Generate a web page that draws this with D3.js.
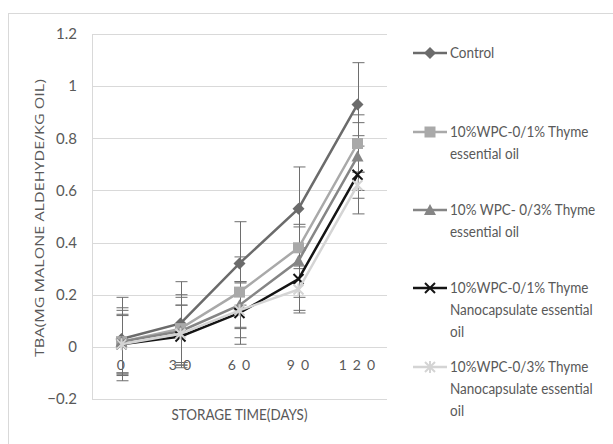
<!DOCTYPE html>
<html><head><meta charset="utf-8">
<script src="https://cdn.jsdelivr.net/npm/d3@7"></script>
<style>body{margin:0;background:#fff}svg{display:block}</style>
</head><body><svg id="c" width="613" height="444"></svg>
<script>
const days = ["0","30","60","90","120"];
const dayLabels = ["0","3 0","6 0","9 0","1 2 0"];
const yTicks = [-0.2,0,0.2,0.4,0.6,0.8,1,1.2];
const seriesNames = ["Control","10%WPC-0/1% Thyme essential oil","10% WPC- 0/3% Thyme essential oil","10%WPC-0/1% Thyme Nanocapsulate essential oil","10%WPC-0/3% Thyme Nanocapsulate essential oil"];
const legendLines = [["Control"],["10%WPC-0/1% Thyme","essential oil"],["10% WPC- 0/3% Thyme","essential oil"],["10%WPC-0/1% Thyme","Nanocapsulate essential","oil"],["10%WPC-0/3% Thyme","Nanocapsulate essential","oil"]];
const control = [0.03,0.09,0.32,0.53,0.93];
const wpc1 = [0.02,0.07,0.21,0.38,0.78];
const wpc3 = [0.02,0.06,0.16,0.33,0.73];
const nano1 = [0.01,0.04,0.13,0.26,0.66];
const nano3 = [0.01,0.05,0.14,0.22,0.62];
const errControl = [0.16,0.16,0.16,0.16,0.16];
const errWpc1 = [0.13,0.13,0.135,0.08,0.11];
const errWpc3 = [0.12,0.13,0.09,0.14,0.13];
const errNano1 = [0.115,0.12,0.12,0.12,0.15];
const errNano3 = [0.11,0.11,0.105,0.09,0.05];
const values = [control,wpc1,wpc3,nano1,nano3];
const errors = [errControl,errWpc1,errWpc3,errNano1,errNano3];
const colors = ["#6b6b6b","#a9a9a9","#858585","#141414","#d4d4d4"];
const shapes = ["diamond","square","triangle","x","star"];

const svg = d3.select("#c");
const narrow = "Lato,'Liberation Sans',sans-serif";
const txt = "#595959";
function squeeze(sel, k){ sel.each(function(){ const w=this.getComputedTextLength(); d3.select(this).attr("textLength",w*k).attr("lengthAdjust","spacingAndGlyphs"); }); }
svg.append("rect").attr("x",8.5).attr("y",13.5).attr("width",640).attr("height",460).attr("fill","#fff").attr("stroke","#d9d9d9");

const L=92,R=387,T=34,B=399;
const x = d3.scaleBand().domain(days).range([L,R]);
const y = d3.scaleLinear().domain([-0.2,1.2]).range([B,T]);

svg.append("g").selectAll("line").data(yTicks).join("line")
 .attr("x1",L).attr("x2",R).attr("y1",d=>Math.round(y(d))+0.5).attr("y2",d=>Math.round(y(d))+0.5)
 .attr("stroke","#d9d9d9").attr("stroke-width",1);
svg.append("line").attr("x1",L+0.5).attr("x2",L+0.5).attr("y1",T).attr("y2",B).attr("stroke","#d9d9d9");

const yAxis = d3.axisLeft(y).tickValues(yTicks).tickSize(0).tickPadding(15).tickFormat(d=>d3.format("~g")(d));
const ga = svg.append("g").attr("transform",`translate(${L},0)`).call(yAxis);
ga.select(".domain").remove();
ga.selectAll("text").attr("font-family",narrow).attr("font-size",15).attr("fill",txt);

const xAxis = d3.axisBottom(x).tickSize(0).tickPadding(13).tickFormat((d,i)=>dayLabels[i]);
const gx = svg.append("g").attr("transform",`translate(0,${y(0)})`).call(xAxis);
gx.select(".domain").remove();
gx.selectAll("text").attr("font-family",narrow).attr("font-size",14).attr("fill",txt).attr("letter-spacing","1.2px");

svg.append("text").attr("x",(L+R)/2).attr("y",420).attr("text-anchor","middle")
 .attr("font-family",narrow).attr("font-size",15).attr("fill",txt)
 .attr("textLength",136).attr("lengthAdjust","spacingAndGlyphs").text("STORAGE TIME(DAYS)");
svg.append("text").attr("transform",`translate(44,218) rotate(-90)`).attr("text-anchor","middle")
 .attr("font-family","'Open Sans','DejaVu Sans',sans-serif").attr("font-size",12.5).attr("fill",txt)
 .attr("textLength",278).attr("lengthAdjust","spacingAndGlyphs")
 .text("TBA(MG MALONE ALDEHYDE/KG OIL)");

function marker(g,shape,color,cx,cy){
  if(shape==="diamond") g.append("path").attr("d",`M${cx},${cy-6}L${cx+6},${cy}L${cx},${cy+6}L${cx-6},${cy}Z`).attr("fill",color);
  else if(shape==="square") g.append("rect").attr("x",cx-5.5).attr("y",cy-5.5).attr("width",11).attr("height",11).attr("fill",color);
  else if(shape==="triangle") g.append("path").attr("d",`M${cx},${cy-6}L${cx+6},${cy+5}L${cx-6},${cy+5}Z`).attr("fill",color);
  else if(shape==="x") g.append("path").attr("d",`M${cx-5},${cy-5}L${cx+5},${cy+5}M${cx+5},${cy-5}L${cx-5},${cy+5}`).attr("stroke",color).attr("stroke-width",2).attr("fill","none");
  else if(shape==="star") g.append("path").attr("d",`M${cx-5},${cy-5}L${cx+5},${cy+5}M${cx+5},${cy-5}L${cx-5},${cy+5}M${cx},${cy-6}L${cx},${cy+6}`).attr("stroke",color).attr("stroke-width",2).attr("fill","none");
}

const cx = d=>x(d)+x.bandwidth()/2;
values.forEach((vals,si)=>{
  const g = svg.append("g");
  vals.forEach((v,i)=>{
    const xx = Math.round(cx(days[i]))+0.5, e = errors[si][i];
    const y1 = y(v+e), y2 = y(v-e);
    g.append("line").attr("x1",xx).attr("x2",xx).attr("y1",y1).attr("y2",y2).attr("stroke","#6e6e6e").attr("stroke-width",1);
    [y1,y2].forEach(yy=>g.append("line").attr("x1",xx-6).attr("x2",xx+6).attr("y1",yy).attr("y2",yy).attr("stroke","#6e6e6e").attr("stroke-width",1));
  });
});
const line = d3.line().x((d,i)=>cx(days[i])).y(d=>y(d));
values.forEach((vals,si)=>{
  svg.append("path").datum(vals).attr("d",line).attr("fill","none").attr("stroke",colors[si]).attr("stroke-width",2.5);
  const g = svg.append("g");
  vals.forEach((v,i)=>marker(g,shapes[si],colors[si],cx(days[i]),y(v)));
});

const legY = [53,132,210,288,367];
legendLines.forEach((lines,si)=>{
  const g = svg.append("g");
  g.append("line").attr("x1",413).attr("x2",447).attr("y1",legY[si]).attr("y2",legY[si]).attr("stroke",colors[si]).attr("stroke-width",2.5);
  marker(g,shapes[si],colors[si],430,legY[si]);
  const t = g.selectAll("text").data(lines).join("text").attr("x",450).attr("y",(d,k)=>legY[si]+k*22).attr("dy","0.35em")
    .attr("font-family",narrow).attr("font-size",15.5).attr("fill",txt).text(d=>d);
  squeeze(t,0.87);
});
</script></body></html>
